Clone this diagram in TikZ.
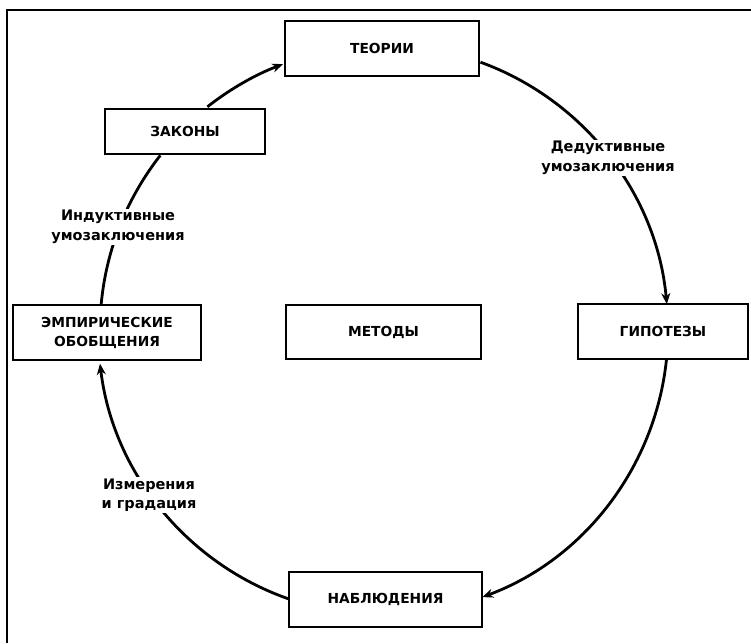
\documentclass[tikz,border=0pt]{standalone}
\usepackage{fontspec}
\setmainfont{DejaVu Sans}
\usetikzlibrary{arrows.meta}
\begin{document}
\begin{tikzpicture}[x=1pt,y=1pt,
  box/.style={draw,line width=2pt,minimum width=#1,inner sep=0pt,align=center,
    font=\fontsize{13.8}{19}\selectfont\bfseries},
  lab/.style={fill=white,inner sep=1.5pt,align=center,font=\fontsize{14.5}{19.5}\selectfont\bfseries},
  arc line/.style={line width=2.8pt},
  arr/.style={arc line,-{Stealth[length=11pt,width=9pt]}}]
\useasboundingbox (0,0) rectangle (751,643);
% frame (top and left edges)
\coordinate (fl) at (7,0);
\coordinate (ft) at (7,633);
\coordinate (fr) at (751,633);
\draw[line width=2.8pt] (fl) -- (ft) -- (fr);
\coordinate (cen) at (383,313);
% boxes
\node[box=194pt,minimum height=55pt] (teo) at (382,594.5) {ТЕОРИИ};
\node[box=160pt,minimum height=45pt] (zak) at (185,511.5) {ЗАКОНЫ};
\node[box=188pt,minimum height=55pt] (emp) at (107,310.5) {ЭМПИРИЧЕСКИЕ\\ОБОБЩЕНИЯ};
\node[box=195pt,minimum height=54pt] (met) at (383.5,311) {МЕТОДЫ};
\node[box=170pt,minimum height=55pt] (gip) at (663,311.5) {ГИПОТЕЗЫ};
\node[box=193pt,minimum height=55pt] (nab) at (385.5,43.5) {НАБЛЮДЕНИЯ};
% arcs
\draw[arr] ([shift={(70:285)}]cen) arc[start angle=70,end angle=5.2,radius=285];
\draw[arr] ([shift={(-6:285)}]cen) arc[start angle=-6,end angle=-69.6,radius=285];
\draw[arr] ([shift={(250.6:285)}]cen) arc[start angle=250.6,end angle=186.8,radius=285];
\draw[arc line] ([shift={(174.9:283)}]cen) arc[start angle=174.9,end angle=141.9,radius=283];
\draw[arr] ([shift={(128.2:284)}]cen) arc[start angle=128.2,end angle=110.6,radius=284];
% labels
\node[lab] (ded) at (608,485) {Дедуктивные\\умозаключения};
\node[lab] (ind) at (118,416) {Индуктивные\\умозаключения};
\node[lab] (izm) at (149,148) {Измерения\\и градация};
\end{tikzpicture}
\end{document}
